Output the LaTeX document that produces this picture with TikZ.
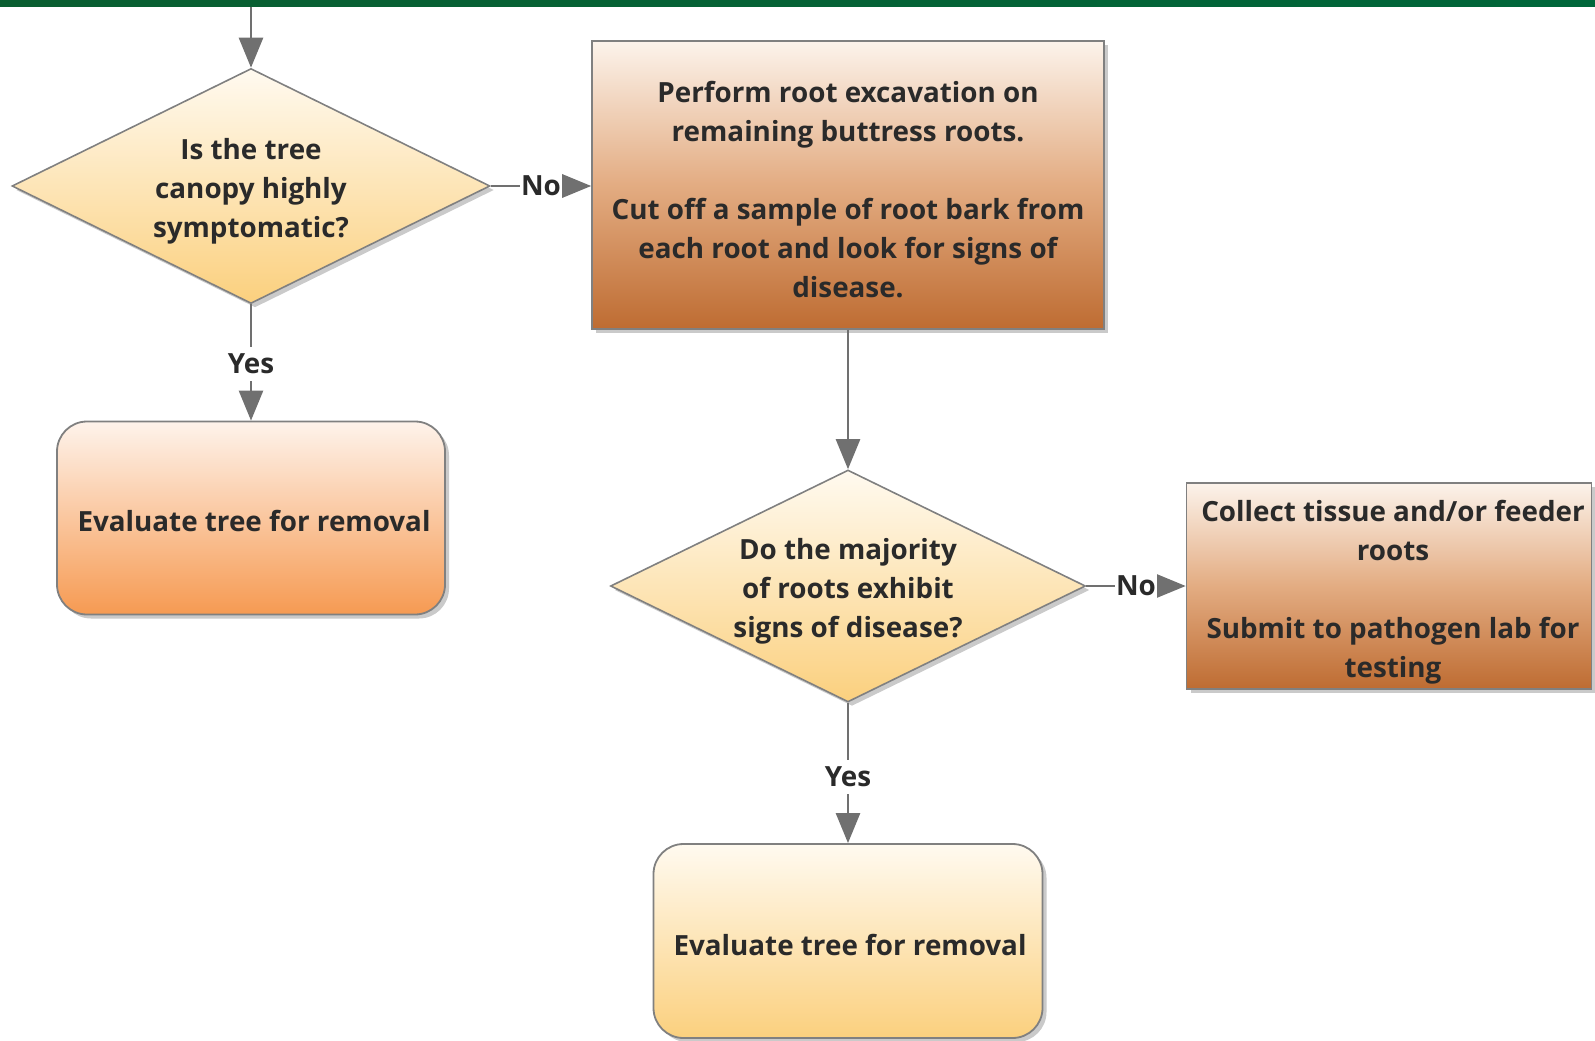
\documentclass[tikz,border=0pt]{standalone}
\usepackage{fontspec}
\setmainfont{Open Sans}
\usetikzlibrary{shapes.geometric,arrows.meta,shadows}

\definecolor{barGreen}{HTML}{0A5E31}
\definecolor{barGreenB}{HTML}{00663A}
\definecolor{edgeGray}{HTML}{808080}
\definecolor{arrowGray}{HTML}{707070}
\definecolor{inkDark}{HTML}{2A2A2A}
\definecolor{creamTop}{HTML}{FFFAF0}
\definecolor{goldBottom}{HTML}{FBD07E}
\definecolor{barkTop}{HTML}{FCF3EB}
\definecolor{barkMid}{HTML}{E3AC82}
\definecolor{barkBottom}{HTML}{BE6C32}
\definecolor{peachTop}{HTML}{FEF3EB}
\definecolor{peachMid}{HTML}{FBC7A0}
\definecolor{peachBottom}{HTML}{F69A52}
\definecolor{honeyMid}{HTML}{FDE6B8}

\tikzset{
  basefont/.style={font=\bfseries\fontsize{27.8}{39}\selectfont, text=inkDark, align=center},
  caption/.style={basefont, inner sep=0pt},
  softshadow/.style={drop shadow={shadow xshift=4pt, shadow yshift=-4pt, opacity=0.35, fill=black!60}},
  decision/.style={shape=diamond, shape aspect=2, inner sep=0pt,
    draw=edgeGray, line width=1.6pt, top color=creamTop, bottom color=goldBottom, softshadow},
  taskbox/.style={rectangle, inner sep=0pt, draw=edgeGray, line width=1.6pt,
    top color=barkTop, bottom color=barkBottom, middle color=barkMid, softshadow},
  endbox/.style={rectangle, rounded corners=30pt, inner sep=0pt, draw=edgeGray,
    line width=1.8pt, softshadow},
  flow/.style={draw=arrowGray, line width=2.6pt, -{Triangle[length=30pt,width=24pt]}},
  answer/.style={basefont, fill=white, inner xsep=1pt, inner ysep=7pt}
}

\begin{document}
\begin{tikzpicture}[x=1pt,y=-1pt]
  \useasboundingbox (0,0) rectangle (1595,1041);
  % title band along the top edge
  \shade[left color=barGreen, right color=barGreenB] (0,0) rectangle (1595,7);

  % shapes
  \node[decision, minimum width=478pt, minimum height=235pt] (q1) at (251,186) {};
  \node[taskbox, minimum width=512pt, minimum height=288pt] (dig) at (848,185) {};
  \node[endbox, minimum width=388pt, minimum height=193pt,
        top color=peachTop, middle color=peachMid, bottom color=peachBottom] (rm1) at (251,518) {};
  \node[decision, minimum width=475pt, minimum height=232pt] (q2) at (848,586) {};
  \node[taskbox, minimum width=405pt, minimum height=206pt] (lab) at (1389,586) {};
  \node[endbox, minimum width=389pt, minimum height=194pt,
        top color=creamTop, middle color=honeyMid, bottom color=goldBottom] (rm2) at (848,941) {};

  % texts inside the shapes
  \node[caption] (q1txt) at ([yshift=-5pt]q1.center) {Is the tree\\canopy highly\\symptomatic?};
  \node[caption] (digtxt) at ([yshift=-5pt]dig.center)
    {Perform root excavation on\\remaining buttress roots.\\[39pt]Cut off a sample of root bark from\\each root and look for signs of\\disease.};
  \node[caption] (rm1txt) at ([xshift=3pt,yshift=-3pt]rm1.center) {Evaluate tree for removal};
  \node[caption] (q2txt) at ([yshift=-5pt]q2.center) {Do the majority\\of roots exhibit\\signs of disease?};
  \node[caption] (labtxt) at ([xshift=4pt,yshift=-6pt]lab.center)
    {Collect tissue and/or feeder\\roots\\[39pt]Submit to pathogen lab for\\testing};
  \node[caption] (rm2txt) at ([xshift=2pt,yshift=-4pt]rm2.center) {Evaluate tree for removal};

  % connectors
  \coordinate (entry) at (251,7);
  \draw[flow] (entry) -- (q1.north);
  \draw[flow] (q1.east) -- node[answer, pos=0.5] {No} (dig.west |- q1.east);
  \draw[flow] (q1.south) -- node[answer, pos=0.51] {Yes} (rm1.north);
  \draw[flow] (dig.south) -- (q2.north);
  \draw[flow] (q2.east) -- node[answer, pos=0.5] {No} (lab.west);
  \draw[flow] (q2.south) -- node[answer, pos=0.53] {Yes} (rm2.north);
\end{tikzpicture}
\end{document}
